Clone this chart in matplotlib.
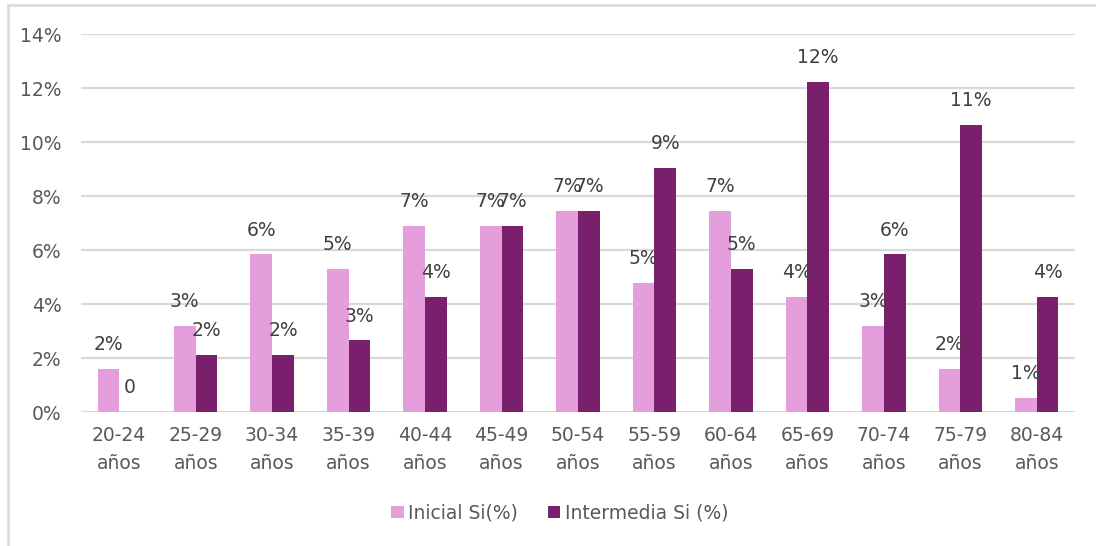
import matplotlib
matplotlib.use("Agg")
import matplotlib.pyplot as plt
import numpy as np
from matplotlib.lines import Line2D

categories = ["20-24\naños", "25-29\naños", "30-34\naños", "35-39\naños", "40-44\naños",
              "45-49\naños", "50-54\naños", "55-59\naños", "60-64\naños", "65-69\naños",
              "70-74\naños", "75-79\naños", "80-84\naños"]
inicial = [1.60, 3.19, 5.85, 5.32, 6.91, 6.91, 7.45, 4.79, 7.45, 4.26, 3.19, 1.60, 0.53]
intermedia = [0.0, 2.13, 2.13, 2.66, 4.26, 6.91, 7.45, 9.04, 5.32, 12.23, 5.85, 10.64, 4.26]
inicial_labels = ["2%", "3%", "6%", "5%", "7%", "7%", "7%", "5%", "7%", "4%", "3%", "2%", "1%"]
intermedia_labels = ["0", "2%", "2%", "3%", "4%", "7%", "7%", "9%", "5%", "12%", "6%", "11%", "4%"]
series_names = ["Inicial Si(%)", "Intermedia Si (%)"]
yticks = [0, 2, 4, 6, 8, 10, 12, 14]

c_ini = "#E49EDC"
c_int = "#7A1F6B"
txt = "#595959"
grid = "#D9D9D9"

plt.rcParams['font.family'] = ['DejaVu Sans']

fig = plt.figure(figsize=(10.96, 5.46), dpi=100)
ax = fig.add_axes([81/1096, 1-412.3/546, (1075-81)/1096, (412.3-34.3)/546])

x = np.arange(len(categories))
w = 0.284
b1 = ax.bar(x - w/2, inicial, w, color=c_ini, label=series_names[0], zorder=3)
b2 = ax.bar(x + w/2, intermedia, w, color=c_int, label=series_names[1], zorder=3)

for bars, labs in ((b1, inicial_labels), (b2, intermedia_labels)):
    for rect, lab in zip(bars, labs):
        ax.annotate(lab, (rect.get_x() + rect.get_width()/2, rect.get_height()),
                    xytext=(0, 17.5), textcoords="offset points",
                    ha="center", va="center", fontsize=13.5, color="#404040", zorder=4)

ax.set_xlim(-0.5, len(categories) - 0.5)
ax.set_ylim(0, 14)
ax.set_yticks(yticks)
ax.set_yticklabels([f"{t}%" for t in yticks])
ax.set_xticks(x)
ax.set_xticklabels(categories, linespacing=1.6)
ax.tick_params(axis="both", length=0, labelsize=13.5, labelcolor=txt)
ax.tick_params(axis="y", pad=14)
ax.tick_params(axis="x", pad=10)
ax.yaxis.grid(True, color=grid, linewidth=1.6, zorder=0)
for s in ax.spines.values():
    s.set_visible(False)

leg = fig.legend(handles=[b1, b2], labels=series_names, loc="center",
                 bbox_to_anchor=(560/1096, 1-513/546), ncol=2, frameon=False,
                 fontsize=13.5, handlelength=0.65, handleheight=0.65, handletextpad=0.25,
                 columnspacing=1.6)
for t in leg.get_texts():
    t.set_color(txt)

bx = 8/1096
by = 1 - 5/546
fig.add_artist(Line2D([bx, bx], [0, by], transform=fig.transFigure, color=grid, linewidth=1.8))
fig.add_artist(Line2D([bx, 1], [by, by], transform=fig.transFigure, color=grid, linewidth=1.8))

fig.savefig("out.png", dpi=100)
